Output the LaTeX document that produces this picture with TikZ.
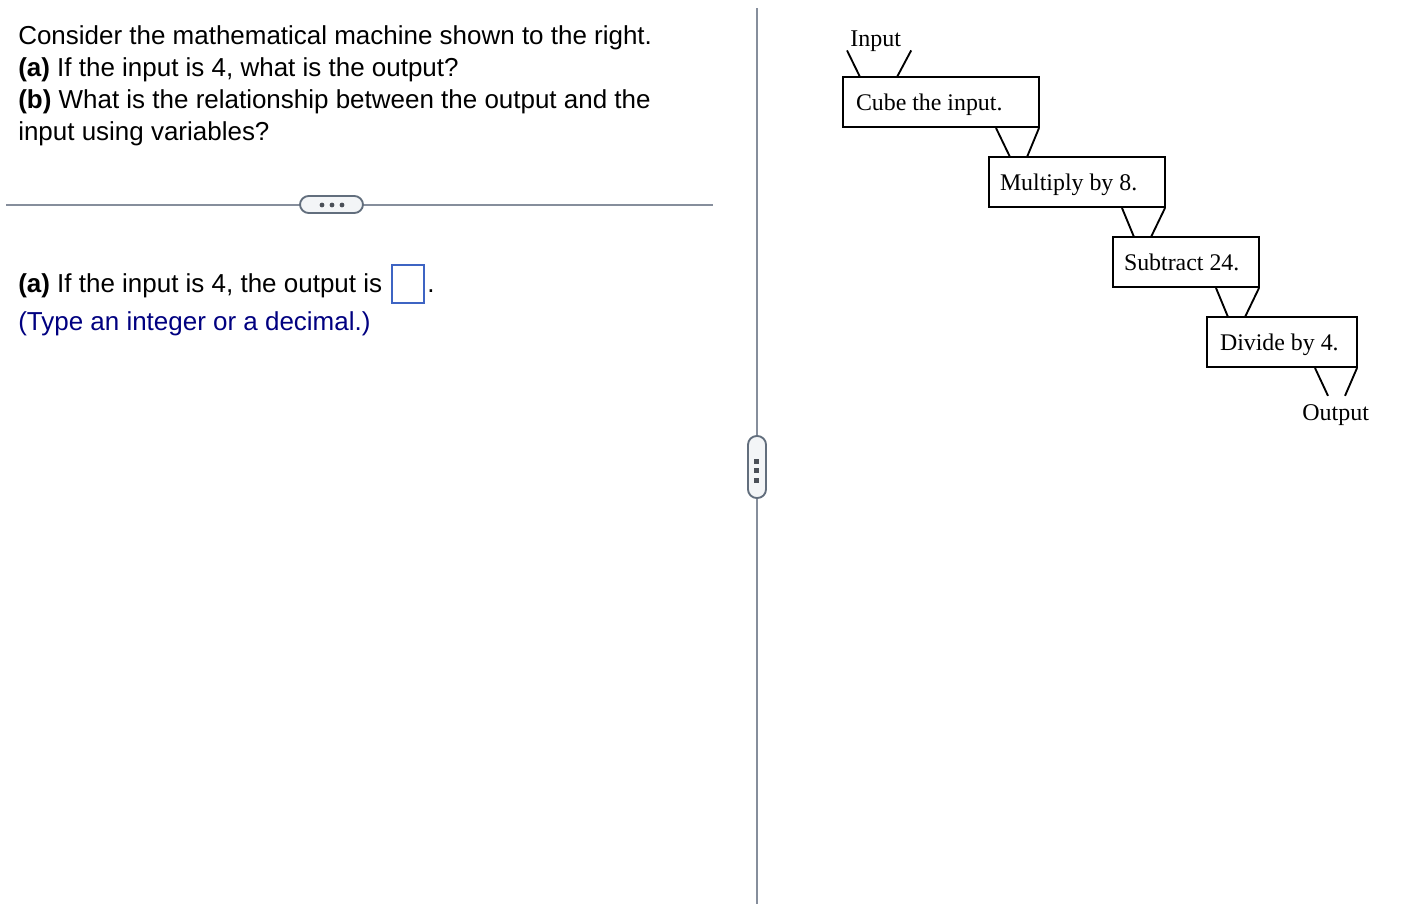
\documentclass[tikz,border=0pt]{standalone}
\usepackage{fontspec}
\setmainfont{Liberation Serif}
\setsansfont{Liberation Sans}
\usetikzlibrary{calc}

\definecolor{railgray}{RGB}{134,142,156}
\definecolor{pilledge}{RGB}{98,110,125}
\definecolor{pillfill}{RGB}{243,245,247}
\definecolor{dotgray}{RGB}{75,80,88}
\definecolor{answerblue}{RGB}{62,100,195}
\definecolor{hintblue}{RGB}{0,0,128}

\tikzset{
  machine/.style={draw, line width=1.5pt, outer sep=0pt, anchor=north west,
    inner xsep=9.75pt, inner ysep=0pt, minimum height=37.5pt, align=flush left,
    text height=14pt, text depth=2pt, font=\fontsize{17.9}{18}\selectfont},
  endlabel/.style={inner sep=0pt, anchor=base west, font=\fontsize{18}{18}\selectfont},
  question/.style={inner sep=0pt, anchor=base west, font=\sffamily\fontsize{19.48}{24}\selectfont},
  funnel/.style={line width=1.4pt},
  rail/.style={railgray, line width=1.4pt},
  pill/.style={draw=pilledge, fill=pillfill, line width=1.4pt, rounded corners=6.5pt},
  pilldot/.style={fill=dotgray}
}

\begin{document}
\begin{tikzpicture}[x=.75pt, y=-.75pt]
  \useasboundingbox (0,0) rectangle (1426,904);

  % question text
  \node[question] (line1) at (18,44)  {Consider the mathematical machine shown to the right.};
  \node[question] (line2) at (18,76)  {\textbf{(a)} If the input is 4, what is the output?};
  \node[question] (line3) at (18,108) {\textbf{(b)} What is the relationship between the output and the};
  \node[question] (line4) at (18,140) {input using variables?};

  % answer
  \node[question] (answer) at (18,292) {\textbf{(a)} If the input is 4, the output is};
  \node[draw=answerblue, line width=1.4pt, outer sep=0pt, minimum width=24pt, minimum height=28.5pt,
        inner sep=0pt] (blank) at (408,284) {};
  \node[question] (period) at (427,292) {.};
  \node[question, text=hintblue] (hint) at (18,330) {(Type an integer or a decimal.)};

  % dividers
  \draw[rail] (6,205) -- (713,205);
  \draw[rail] (757,8) -- (757,904);
  \draw[pill] (300,196) rectangle (363,213);
  \draw[pill] (748,436) rectangle (766,498);
  \foreach \x in {322,332,342} \fill[pilldot] (\x,205) circle (2.4);
  \foreach \y in {459,468,478} \fill[pilldot] (754,\y) rectangle ++(5,5);

  % machine
  \node[machine, text width=127.5pt] (cube)   at (843,77)  {Cube the input.};
  \node[machine, inner xsep=8.25pt, text width=115.5pt] (multiply) at (989,157) {Multiply by 8.};
  \node[machine, inner xsep=8.25pt, text width=93pt] (subtract) at (1113,237) {Subtract 24.};
  \node[machine, text width=93pt] (divide)  at (1207,317) {Divide by 4.};
  \node[endlabel] (input)  at (850,46)   {Input};
  \node[endlabel] (output) at (1302,420) {Output};

  % funnels
  \draw[funnel] ($(input.south west)+(-3,-1)$) -- ($(cube.north west)+(17,0)$);
  \draw[funnel] ($(input.south east)+(10,-1)$) -- ($(cube.north west)+(54,0)$);
  \foreach \upper/\lower in {cube/multiply, multiply/subtract, subtract/divide}{
    \draw[funnel] ($(\upper.south east)+(-43,1)$) -- ($(\lower.north west)+(21,0)$);
    \draw[funnel] ($(\upper.south east)+(0,1)$) -- ($(\lower.north west)+(38,0)$);
  }
  \draw[funnel] ($(divide.south east)+(-42,1)$) -- ($(output.north west)+(26,-8)$);
  \draw[funnel] ($(divide.south east)+(0,1)$) -- ($(output.north west)+(43,-8)$);
\end{tikzpicture}
\end{document}
